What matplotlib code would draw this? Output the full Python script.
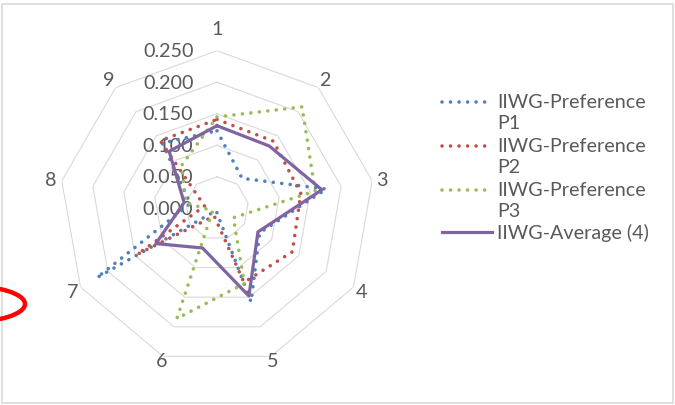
import numpy as np
import matplotlib
matplotlib.use("Agg")
import matplotlib.pyplot as plt
from matplotlib.lines import Line2D
from matplotlib.patches import Ellipse, Rectangle
from matplotlib.transforms import IdentityTransform

# Criteria (radar spokes) and the four series
categories = ['1', '2', '3', '4', '5', '6', '7', '8', '9']
pref_p1 = [0.123, 0.062, 0.176, 0.078, 0.158, 0.004, 0.220, 0.043, 0.135]
pref_p2 = [0.141, 0.139, 0.135, 0.138, 0.125, 0.013, 0.146, 0.020, 0.140]
pref_p3 = [0.145, 0.210, 0.158, 0.030, 0.127, 0.186, 0.008, 0.050, 0.088]
average = [0.131, 0.129, 0.169, 0.075, 0.148, 0.067, 0.112, 0.053, 0.118]
series_names = ['IIWG-Preference\nP1', 'IIWG-Preference\nP2',
                'IIWG-Preference\nP3', 'IIWG-Average (4)']
ring_values = [0.0, 0.05, 0.10, 0.15, 0.20, 0.25]
ring_labels = ['0.000', '0.050', '0.100', '0.150', '0.200', '0.250']

colors = ['#4F81BD', '#C0504D', '#9BBB59', '#8064A2']
text_color = '#595959'
grid_color = '#D9D9D9'
FONT = 'Lato'
FS = 14.2

W, H = 675, 406
fig = plt.figure(figsize=(W / 100, H / 100), dpi=100)

# polar axes placed so the plot centre sits at (cx, cy) px with radius R px
cx, cy, R = 217, 209.3, 157.6
ax = fig.add_axes([(cx - R) / W, (H - cy - R) / H, 2 * R / W, 2 * R / H],
                  projection='polar')
ax.set_theta_zero_location('N')
ax.set_theta_direction(-1)
ax.set_ylim(0, 0.25)
ax.grid(False)
ax.spines['polar'].set_visible(False)
ax.set_xticks([])
ax.set_yticks([])
ax.patch.set_visible(False)

theta = np.linspace(0, 2 * np.pi, len(categories), endpoint=False)
theta_c = np.append(theta, theta[0])

# nonagon gridlines
for r in ring_values[1:]:
    ax.plot(theta_c, [r] * len(theta_c), color=grid_color, lw=0.8, zorder=1)

# radial value labels along the first spoke
for r, lab in zip(ring_values, ring_labels):
    ax.annotate(lab, xy=(0, r), xytext=(-17, 0), textcoords='offset points',
                ha='right', va='center', fontsize=FS, color=text_color,
                family=FONT, zorder=2)

# category labels around the outside
label_r = [0.285, 0.267, 0.266, 0.265, 0.257, 0.257, 0.265, 0.267, 0.267]
for t, r, lab in zip(theta, label_r, categories):
    ax.text(t, r, lab, ha='center', va='center', fontsize=FS,
            color=text_color, family=FONT)

dotted = (0, (0.01, 2.35))
all_series = [pref_p1, pref_p2, pref_p3, average]
styles = [dotted, dotted, dotted, '-']
for vals, col, ls in zip(all_series, colors, styles):
    v = np.append(vals, vals[0])
    if ls == '-':
        ax.plot(theta_c, v, color=col, lw=2.3, solid_joinstyle='round', zorder=4)
    else:
        ax.plot(theta_c, v, color=col, lw=2.6, linestyle=ls,
                dash_capstyle='round', zorder=3)
ax.set_ylim(0, 0.25)

# legend, drawn in pixel space
leg_y = [102.7, 146.7, 190.7, 233.3]
for name, col, ls, y in zip(series_names, colors, styles, leg_y):
    ln = Line2D([441.7 / W, 491.7 / W], [1 - y / H, 1 - y / H],
                transform=fig.transFigure, color=col,
                lw=2.3 if ls == '-' else 2.6,
                linestyle=ls, dash_capstyle='round')
    fig.add_artist(ln)
    for i, part in enumerate(name.split('\n')):
        fig.text(497 / W, 1 - (y + i * 21) / H, part, ha='left', va='center',
                 fontsize=FS, color=text_color, family=FONT)

# chart frame
fig.add_artist(Rectangle((1.5, 2), 671, 399, fill=False, edgecolor=grid_color,
                         lw=1.2, transform=IdentityTransform()))
# red highlight mark at the left edge
fig.add_artist(Ellipse((-31, H - 305), 112, 36, fill=False, edgecolor='#FF0000',
                       lw=3.2, transform=IdentityTransform()))

fig.savefig('out.png', dpi=100)
